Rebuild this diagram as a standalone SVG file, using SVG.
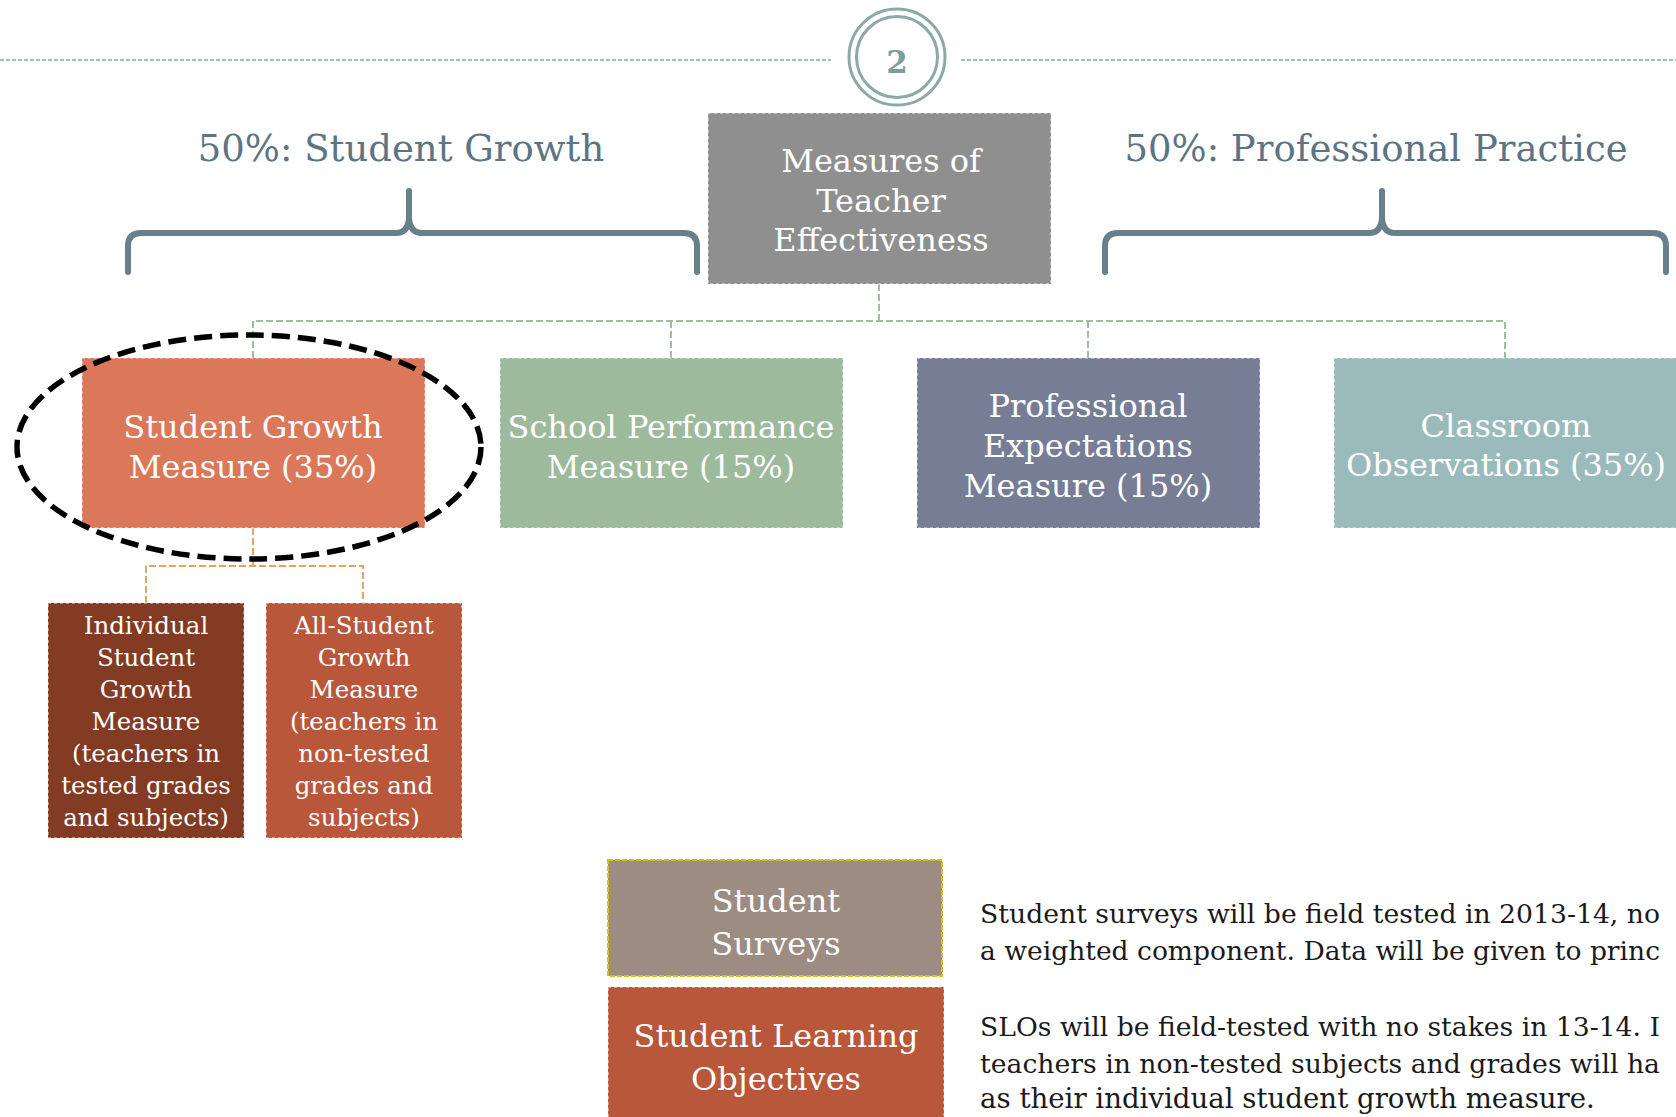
<svg xmlns="http://www.w3.org/2000/svg" width="1676" height="1117" viewBox="0 0 1676 1117">
  <style>
    .box { stroke: #ffffff; stroke-opacity: 0.55; stroke-width: 1.5; stroke-dasharray: 3 3; }
    .lbl { font-family: "DejaVu Serif", "Liberation Serif", serif; fill: #ffffff; text-anchor: middle; font-size: 32px; }
    .small { font-size: 24.5px; }
    .title { font-family: "DejaVu Serif", "Liberation Serif", serif; fill: #5c7483; text-anchor: middle; font-size: 37px; }
    .body { font-family: "DejaVu Serif", "Liberation Serif", serif; fill: #1a1a1a; font-size: 27.6px; }
    .fit { font-size: 26.6px; }
    .brace { fill: none; stroke: #687f8c; stroke-width: 6; stroke-linecap: round; stroke-linejoin: round; }
    .green { fill: none; stroke: #9dbf9d; stroke-width: 2; stroke-dasharray: 7 3; }
    .orange { fill: none; stroke: #e0a560; stroke-width: 2; stroke-dasharray: 7 3; }
  </style>

  <!-- section divider with numbered badge -->
  <g id="divider">
    <line x1="0" y1="60" x2="831" y2="60" stroke="#8ca9a6" stroke-width="1.6" stroke-dasharray="4 2"/>
    <line x1="961" y1="60" x2="1676" y2="60" stroke="#8ca9a6" stroke-width="1.6" stroke-dasharray="4 2"/>
    <circle cx="897" cy="57" r="48" fill="#ffffff" stroke="#8ca9a6" stroke-width="3"/>
    <circle cx="897" cy="57" r="40.5" fill="none" stroke="#8ca9a6" stroke-width="3"/>
    <text x="897" y="73" font-family="DejaVu Serif, Liberation Serif, serif" font-size="31" font-weight="bold" fill="#7f9e9b" text-anchor="middle">2</text>
  </g>

  <!-- weight headings and braces -->
  <g id="heading-growth">
    <text class="title" x="401" y="161">50%: Student Growth</text>
    <path class="brace" d="M128,272 V246 Q128,233 141,233 H396 Q408,233 409,218 V191 M409,218 Q410,233 422,233 H684 Q697,233 697,246 V272"/>
  </g>
  <g id="heading-practice">
    <text class="title" x="1376" y="161">50%: Professional Practice</text>
    <path class="brace" d="M1105,272 V246 Q1105,233 1118,233 H1369 Q1381,233 1382,218 V191 M1382,218 Q1383,233 1395,233 H1653 Q1666,233 1666,246 V272"/>
  </g>

  <!-- connectors -->
  <g id="connectors">
    <path class="green" d="M879,284 V321 M253,358 V321 H1505 V358 M671,321 V358 M1088,321 V358"/>
    <path class="orange" d="M253,528 V566 M146,603 V566 H363 V603"/>
  </g>

  <g id="node-root">
    <rect class="box" x="708" y="113" width="343" height="171" fill="#8f8f8f"/>
    <text class="lbl" x="881" y="172">Measures of</text>
    <text class="lbl" x="881" y="212">Teacher</text>
    <text class="lbl" x="881" y="251">Effectiveness</text>
  </g>

  <g id="node-student-growth">
    <rect class="box" x="82" y="358" width="343" height="170" fill="#db785a"/>
    <text class="lbl" x="253" y="438">Student Growth</text>
    <text class="lbl" x="253" y="478">Measure (35%)</text>
  </g>

  <g id="node-school-performance">
    <rect class="box" x="500" y="358" width="343" height="170" fill="#9eba9c"/>
    <text class="lbl" x="671" y="438">School Performance</text>
    <text class="lbl" x="671" y="478">Measure (15%)</text>
  </g>

  <g id="node-professional-expectations">
    <rect class="box" x="917" y="358" width="343" height="170" fill="#767d95"/>
    <text class="lbl" x="1088" y="417">Professional</text>
    <text class="lbl" x="1088" y="457">Expectations</text>
    <text class="lbl" x="1088" y="497">Measure (15%)</text>
  </g>

  <g id="node-classroom-observations">
    <rect class="box" x="1334" y="358" width="343" height="170" fill="#9bbabb"/>
    <text class="lbl" x="1506" y="437">Classroom</text>
    <text class="lbl" x="1506" y="476">Observations (35%)</text>
  </g>

  <!-- highlight around the student growth measure -->
  <ellipse id="highlight" cx="249" cy="447" rx="232" ry="112" fill="none" stroke="#000000" stroke-width="5.5" stroke-dasharray="18 8"/>

  <g id="node-individual-growth">
    <rect class="box" x="48" y="603" width="196" height="235" fill="#843b23"/>
    <text class="lbl small" x="146" y="634">Individual</text>
    <text class="lbl small" x="146" y="666">Student</text>
    <text class="lbl small" x="146" y="698">Growth</text>
    <text class="lbl small" x="146" y="730">Measure</text>
    <text class="lbl small" x="146" y="762">(teachers in</text>
    <text class="lbl small" x="146" y="794">tested grades</text>
    <text class="lbl small" x="146" y="826">and subjects)</text>
  </g>

  <g id="node-all-student-growth">
    <rect class="box" x="266" y="603" width="196" height="235" fill="#b9573a"/>
    <text class="lbl small" x="364" y="634">All-Student</text>
    <text class="lbl small" x="364" y="666">Growth</text>
    <text class="lbl small" x="364" y="698">Measure</text>
    <text class="lbl small" x="364" y="730">(teachers in</text>
    <text class="lbl small" x="364" y="762">non-tested</text>
    <text class="lbl small" x="364" y="794">grades and</text>
    <text class="lbl small" x="364" y="826">subjects)</text>
  </g>

  <g id="node-student-surveys">
    <rect x="608" y="860" width="334" height="116" fill="#9c8c82" stroke="#d6c000" stroke-width="2" stroke-dasharray="5 2"/>
    <text class="lbl" x="776" y="912">Student</text>
    <text class="lbl" x="776" y="955">Surveys</text>
  </g>

  <g id="node-slo">
    <rect class="box" x="608" y="987" width="336" height="140" fill="#b9573a"/>
    <text class="lbl" x="776" y="1047">Student Learning</text>
    <text class="lbl" x="776" y="1090">Objectives</text>
  </g>

  <!-- notes beside the two field-tested components; lines run to the right edge -->
  <g id="notes">
    <text class="body fit" x="980" y="923" textLength="680" lengthAdjust="spacingAndGlyphs">Student surveys will be field tested in 2013-14, no</text>
    <text class="body fit" x="980" y="960" textLength="680" lengthAdjust="spacingAndGlyphs">a weighted component. Data will be given to princ</text>
    <text class="body fit" x="980" y="1036" textLength="680" lengthAdjust="spacingAndGlyphs">SLOs will be field-tested with no stakes in 13-14. I</text>
    <text class="body fit" x="980" y="1073" textLength="680" lengthAdjust="spacingAndGlyphs">teachers in non-tested subjects and grades will ha</text>
    <text class="body" x="980" y="1108">as their individual student growth measure.</text>
  </g>
</svg>
